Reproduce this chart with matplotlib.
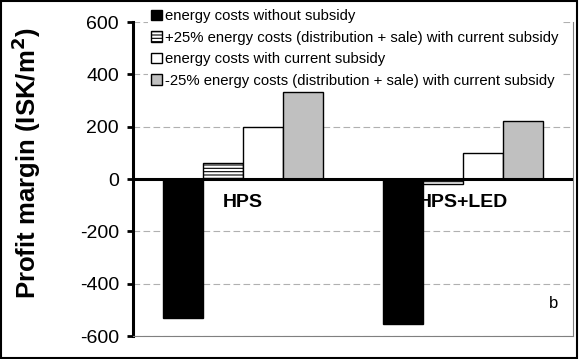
import numpy as np
import matplotlib
matplotlib.use("Agg")
import matplotlib.pyplot as plt
from matplotlib.patches import Rectangle

plt.rcParams['font.family'] = ['Liberation Sans', 'DejaVu Sans']
plt.rcParams['hatch.linewidth'] = 0.8
plt.rcParams['axes.unicode_minus'] = False

categories = ["HPS", "HPS+LED"]
series_names = [
    "energy costs without subsidy",
    "+25% energy costs (distribution + sale) with current subsidy",
    "energy costs with current subsidy",
    "-25% energy costs (distribution + sale) with current subsidy",
]
no_subsidy = [-530, -555]
plus25 = [60, -20]
with_subsidy = [200, 100]
minus25 = [332, 222]

values = [no_subsidy, plus25, with_subsidy, minus25]
faces = ["black", "white", "white", "#c0c0c0"]
hatches = [None, "-----", None, None]

fig = plt.figure(figsize=(5.79, 3.59), dpi=100)
ax = fig.add_axes([0.2297, 0.064, 0.7599, 0.8747])

x = np.arange(len(categories))
w = 0.182
for i, vals in enumerate(values):
    ax.bar(x + (i - 1.5) * w, vals, width=w, color=faces[i], edgecolor="black",
           linewidth=1, hatch=hatches[i], label=series_names[i], zorder=3)

ax.set_xlim(-0.5, 1.5)
ax.set_ylim(-600, 600)
ax.set_yticks(np.arange(-600, 601, 200))
ax.tick_params(axis='y', labelsize=14, length=4, width=2, direction='out', pad=6)
ax.set_xticks([])
ax.yaxis.grid(True, linestyle=(0, (6, 3)), color="#b0b0b0", linewidth=0.8, zorder=0)
ax.set_axisbelow(True)
ax.axhline(0, color="black", linewidth=2.2, zorder=4)

ax.spines['top'].set_visible(False)
ax.spines['left'].set_linewidth(2.2)
ax.spines['right'].set_color("#808080")
ax.spines['bottom'].set_color("#808080")

for i, c in enumerate(categories):
    ax.text(x[i], -88, c, ha='center', va='center', fontsize=14, fontweight='bold', zorder=5)

ax.text(0.955, 0.105, "b", transform=ax.transAxes, fontsize=12, ha='center', va='center')

ax.set_ylabel("Profit margin (ISK/m$^\\mathbf{2}$)", fontsize=18.5, fontweight='bold')
ax.yaxis.set_label_coords(-0.205, 0.55)

leg = ax.legend(loc='upper left', bbox_to_anchor=(0.035, 1.05), frameon=True,
                fontsize=10.7, handlelength=0.7, handleheight=0.7, handletextpad=0.2,
                labelspacing=0.5, borderpad=0.2, borderaxespad=0)
leg.get_frame().set_edgecolor("none")
leg.get_frame().set_facecolor("white")
leg.get_frame().set_alpha(1)
leg.set_zorder(6)

fig.patches.append(Rectangle((0.002, 0.003), 0.995, 0.994, transform=fig.transFigure,
                             fill=False, edgecolor="black", linewidth=1.5))

fig.savefig("out.png", dpi=100)
